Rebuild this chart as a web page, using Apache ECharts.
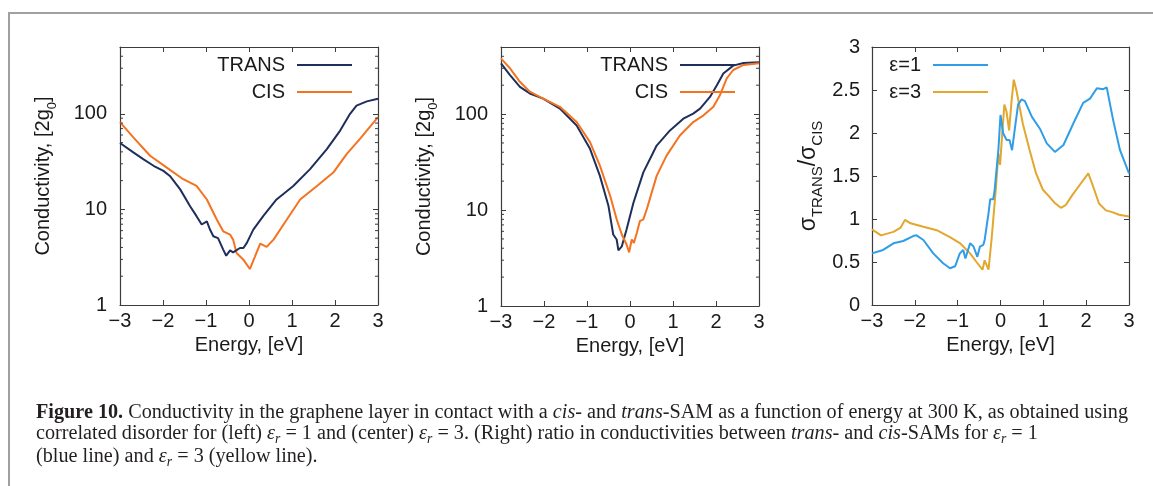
<!DOCTYPE html>
<html>
<head>
<meta charset="utf-8">
<script src="https://cdn.jsdelivr.net/npm/echarts@6/dist/echarts.min.js"></script>
<style>
  html, body { margin: 0; padding: 0; background: #fff; }
  #wrap { position: relative; width: 1153px; height: 486px; overflow: hidden; background: #fff; }
  #chart { position: absolute; left: 0; top: 0; width: 1153px; height: 486px; }
  #frame { position: absolute; left: 8px; top: 12px; width: 1200px; height: 520px;
           border-top: 2px solid #a0a0a0; border-left: 2px solid #a0a0a0; }
  #caption { position: absolute; left: 36px; top: 401px; font-family: 'Liberation Serif', serif;
             font-size: 20px; line-height: 21.2px; color: #231f20; white-space: nowrap;
             transform-origin: 0 0; }
  #caption .row { display: block; }
  #caption .txt { display: inline-block; }
  .sub { font-size: 0.68em; position: relative; top: 0.3em; font-style: italic; }
</style>
</head>
<body>
<div id="wrap">
  <div id="frame"></div>
  <div id="chart"></div>
  <div id="caption">
    <div class="row"><span class="txt" id="firstLine"><b>Figure 10.</b> Conductivity in the graphene layer in contact with a <i>cis</i>- and <i>trans</i>-SAM as a function of energy at 300 K, as obtained using</span></div>
    <div class="row"><span class="txt">correlated disorder for (left) <i>ε</i><span class="sub">r</span> = 1 and (center) <i>ε</i><span class="sub">r</span> = 3. (Right) ratio in conductivities between <i>trans</i>- and <i>cis</i>-SAMs for <i>ε</i><span class="sub">r</span> = 1</span></div>
    <div class="row"><span class="txt">(blue line) and <i>ε</i><span class="sub">r</span> = 3 (yellow line).</span></div>
  </div>
</div>
<script>
// ---- Left panel (εr = 1): conductivity [2g0] vs energy [eV] ----
const leftTransE = [-3, -2.69, -2.46, -2.22, -1.99, -1.84, -1.6, -1.37, -1.22, -1.1, -0.98, -0.91, -0.83, -0.72, -0.6, -0.53, -0.44, -0.37, -0.21, -0.13, -0.05, 0.1, 0.33, 0.64, 1.03, 1.42, 1.81, 2.12, 2.35, 2.5, 2.74, 3];
const leftTransS = [49.5, 39.5, 33.6, 28.6, 25.3, 22.4, 16.2, 10.8, 8.5, 6.95, 7.5, 6.2, 5.24, 5.0, 3.8, 3.28, 3.73, 3.55, 3.95, 3.95, 4.46, 6.15, 8.5, 12.7, 17.6, 26.4, 42.8, 66.8, 100, 122, 135, 144];
const leftCisE = [-3, -2.69, -2.3, -1.92, -1.53, -1.22, -0.98, -0.75, -0.6, -0.44, -0.37, -0.29, -0.13, 0.02, 0.14, 0.26, 0.41, 0.57, 0.88, 1.19, 1.58, 1.96, 2.27, 2.58, 3];
const leftCisS = [81.8, 56.8, 36.4, 27.5, 20.7, 17.6, 12.7, 7.85, 5.9, 5.45, 4.83, 3.5, 2.98, 2.38, 3.23, 4.39, 4.05, 4.83, 7.85, 12.7, 17.6, 24.3, 37.9, 54.6, 92.3];

// ---- Center panel (εr = 3) ----
const centerTransE = [-3, -2.79, -2.56, -2.33, -2.02, -1.63, -1.24, -0.93, -0.7, -0.5, -0.39, -0.31, -0.27, -0.19, -0.08, 0.08, 0.31, 0.62, 0.93, 1.24, 1.47, 1.63, 1.86, 2.02, 2.17, 2.4, 2.64, 3];
const centerTransS = [338, 255, 192, 164, 145, 114, 76, 43.4, 22.7, 11, 5.56, 4.93, 3.8, 4.19, 6.27, 11.9, 24.7, 47, 67.5, 89.5, 101, 114, 151, 200, 265, 320, 340, 346];
const centerCisE = [-3, -2.79, -2.56, -2.33, -2.02, -1.63, -1.24, -0.93, -0.7, -0.46, -0.31, -0.19, -0.08, -0.02, 0.04, 0.09, 0.16, 0.23, 0.31, 0.39, 0.62, 0.85, 1.16, 1.47, 1.71, 1.94, 2.09, 2.25, 2.4, 2.64, 3];
const centerCisS = [381, 299, 217, 171, 145, 119, 82.6, 51, 29, 14, 8, 5.56, 4.37, 3.62, 4.93, 4.55, 5.8, 7.67, 8.0, 10.2, 22.7, 36.9, 59.8, 82.6, 97, 119, 157, 235, 288, 325, 338];

// ---- Right panel: ratio σTRANS / σCIS ----
const ratioEps1E = [-3, -2.74, -2.5, -2.27, -2.04, -1.96, -1.8, -1.57, -1.34, -1.18, -1.06, -0.95, -0.87, -0.82, -0.71, -0.63, -0.54, -0.48, -0.4, -0.37, -0.28, -0.24, -0.17, -0.14, -0.05, 0.0, 0.06, 0.14, 0.21, 0.27, 0.33, 0.41, 0.49, 0.57, 0.73, 0.92, 1.08, 1.27, 1.47, 1.7, 1.93, 2.09, 2.25, 2.4, 2.48, 2.63, 2.79, 3];
const ratioEps1V = [0.60, 0.64, 0.717, 0.744, 0.802, 0.81, 0.756, 0.6, 0.485, 0.427, 0.45, 0.60, 0.64, 0.54, 0.717, 0.68, 0.56, 0.68, 0.70, 0.756, 1.066, 1.23, 1.23, 1.32, 1.80, 2.21, 2.0, 1.92, 1.92, 1.80, 2.03, 2.33, 2.39, 2.37, 2.19, 2.05, 1.88, 1.78, 1.86, 2.11, 2.35, 2.40, 2.52, 2.51, 2.53, 2.15, 1.80, 1.53];
const ratioEps3E = [-3, -2.79, -2.5, -2.33, -2.23, -2.1, -1.8, -1.49, -1.18, -0.95, -0.71, -0.56, -0.42, -0.37, -0.28, -0.21, -0.11, -0.05, -0.01, 0.03, 0.09, 0.14, 0.2, 0.26, 0.31, 0.37, 0.52, 0.68, 0.83, 0.99, 1.14, 1.26, 1.41, 1.52, 1.68, 1.87, 2.05, 2.14, 2.3, 2.46, 2.61, 2.77, 3];
const ratioEps3V = [0.88, 0.81, 0.85, 0.90, 0.99, 0.95, 0.91, 0.87, 0.79, 0.72, 0.60, 0.50, 0.41, 0.52, 0.41, 0.756, 1.34, 1.76, 1.63, 1.92, 2.33, 2.25, 2.03, 2.38, 2.62, 2.5, 2.11, 1.80, 1.53, 1.34, 1.26, 1.19, 1.13, 1.16, 1.28, 1.41, 1.53, 1.41, 1.18, 1.10, 1.08, 1.05, 1.03];

// ---- Axis ranges and tick labels ----
const energyRange = [-3, 3];
const energyStep = 1;
const condRange = [1, 500];
const condTickLabels = [1, 10, 100];
const condMinorTicks = [2, 3, 4, 5, 6, 7, 8, 9, 20, 30, 40, 50, 60, 70, 80, 90, 200, 300, 400];
const ratioRange = [0, 3];
const ratioStep = 0.5;

// ---- Styling ----
const NAVY = '#1f2f5c';
const ORANGE = '#f47321';
const BLUE = '#2f9ee6';
const GOLD = '#e2a72c';
const AXIS = '#3c3c3c';
const TEXT = '#1a1a1a';
const FONT = "'Liberation Sans', Arial, sans-serif";
const FS = 20;

const zip = (xs, ys) => xs.map((x, i) => [x, ys[i]]);
const minus = v => String(v).replace('-', '\u2212');

const grids = [
  { left: 120, top: 47, width: 258, height: 258 },
  { left: 501, top: 47, width: 258, height: 259 },
  { left: 872, top: 47, width: 257, height: 258 }
];

const lineCommon = { show: true, onZero: false, lineStyle: { color: AXIS, width: 1.2 } };
const tickCommon = { show: true, inside: true, length: 5, lineStyle: { color: AXIS, width: 1 } };

function xAxisPair(g) {
  return [
    {
      gridIndex: g, type: 'value', position: 'bottom',
      min: energyRange[0], max: energyRange[1], interval: energyStep,
      axisLine: lineCommon, axisTick: tickCommon, splitLine: { show: false },
      axisLabel: { margin: 6, fontSize: FS, color: TEXT, fontFamily: FONT, formatter: minus },
      name: 'Energy, [eV]', nameLocation: 'middle', nameGap: 27,
      nameTextStyle: { fontSize: FS, color: TEXT, fontFamily: FONT }
    },
    {
      gridIndex: g, type: 'value', position: 'top',
      min: energyRange[0], max: energyRange[1], interval: energyStep,
      axisLine: lineCommon, axisTick: tickCommon, splitLine: { show: false },
      axisLabel: { show: false }
    }
  ];
}

const richName = {
  a: { fontSize: FS, lineHeight: 26, verticalAlign: 'top', color: TEXT, fontFamily: FONT },
  s: { fontSize: 13, lineHeight: 12, verticalAlign: 'bottom', color: TEXT, fontFamily: FONT }
};

function logYAxisPair(g) {
  const shared = {
    gridIndex: g, type: 'log', logBase: 10, min: condRange[0], max: condRange[1],
    axisLine: lineCommon, axisTick: tickCommon, splitLine: { show: false }, minorTick: { show: false }
  };
  return [
    Object.assign({}, shared, {
      position: 'left',
      axisLabel: {
        margin: 13, fontSize: FS, color: TEXT, fontFamily: FONT,
        formatter: v => (condTickLabels.indexOf(Math.round(v)) >= 0 && Math.abs(v - Math.round(v)) < 1e-6) ? String(Math.round(v)) : ''
      },
      name: '{a|Conductivity, [2g}{s|0}{a|]}', nameLocation: 'middle', nameGap: 61,
      nameTextStyle: { rich: richName }
    }),
    Object.assign({}, shared, { position: 'right', axisLabel: { show: false } })
  ];
}

function ratioYAxisPair(g) {
  const shared = {
    gridIndex: g, type: 'value', min: ratioRange[0], max: ratioRange[1], interval: ratioStep,
    axisLine: lineCommon, axisTick: tickCommon, splitLine: { show: false }
  };
  return [
    Object.assign({}, shared, {
      position: 'left',
      axisLabel: { margin: 12, fontSize: FS, color: TEXT, fontFamily: FONT },
      name: '{a|\u03c3}{s|TRANS}{a|/\u03c3}{s|CIS}', nameLocation: 'middle', nameGap: 47,
      nameTextStyle: {
        rich: {
          a: { fontSize: 23, lineHeight: 28, verticalAlign: 'top', color: TEXT, fontFamily: FONT },
          s: { fontSize: 15, lineHeight: 14, verticalAlign: 'bottom', color: TEXT, fontFamily: FONT }
        }
      }
    }),
    Object.assign({}, shared, { position: 'right', axisLabel: { show: false } })
  ];
}

function curve(name, xIdx, yIdx, xs, ys, color, z) {
  return {
    type: 'line', name, xAxisIndex: xIdx, yAxisIndex: yIdx, data: zip(xs, ys),
    showSymbol: false, symbol: 'none', z,
    lineStyle: { color, width: 2 }, itemStyle: { color }
  };
}

// Minor ticks of the logarithmic axes, drawn inward on both frame sides
function minorTickSeries(xIdx, yIdx) {
  return {
    type: 'custom', xAxisIndex: xIdx, yAxisIndex: yIdx, silent: true, z: 5,
    data: condMinorTicks.map(v => [energyRange[0], v]),
    encode: { x: 0, y: 1 },
    renderItem: (params, api) => {
      const v = api.value(1);
      const a = api.coord([energyRange[0], v]);
      const b = api.coord([energyRange[1], v]);
      const st = { stroke: AXIS, lineWidth: 1 };
      return {
        type: 'group',
        children: [
          { type: 'line', shape: { x1: a[0], y1: a[1], x2: a[0] + 3, y2: a[1] }, style: st },
          { type: 'line', shape: { x1: b[0] - 3, y1: b[1], x2: b[0], y2: b[1] }, style: st }
        ]
      };
    }
  };
}

function legendAt(rightEdge, names) {
  return {
    data: names, orient: 'vertical', right: 1153 - rightEdge, top: 55, padding: 0,
    align: 'right', icon: 'rect', itemWidth: 55, itemHeight: 2, itemGap: 7,
    selectedMode: false,
    textStyle: { fontSize: FS, lineHeight: 20, color: TEXT, fontFamily: FONT, padding: [0, 7, 0, 0] }
  };
}

const option = {
  animation: false,
  backgroundColor: 'transparent',
  grid: grids,
  xAxis: [].concat(xAxisPair(0), xAxisPair(1), xAxisPair(2)),
  yAxis: [].concat(logYAxisPair(0), logYAxisPair(1), ratioYAxisPair(2)),
  legend: [
    legendAt(352, ['TRANS', 'CIS']),
    legendAt(735, ['TRANS', 'CIS']),
    legendAt(988, ['\u03b5=1', '\u03b5=3'])
  ],
  series: [
    curve('CIS', 0, 0, leftCisE, leftCisS, ORANGE, 2),
    curve('TRANS', 0, 0, leftTransE, leftTransS, NAVY, 3),
    curve('TRANS', 2, 2, centerTransE, centerTransS, NAVY, 2),
    curve('CIS', 2, 2, centerCisE, centerCisS, ORANGE, 3),
    curve('\u03b5=3', 4, 4, ratioEps3E, ratioEps3V, GOLD, 2),
    curve('\u03b5=1', 4, 4, ratioEps1E, ratioEps1V, BLUE, 3),
    minorTickSeries(0, 0),
    minorTickSeries(2, 2)
  ]
};

const chart = echarts.init(document.getElementById('chart'), null, { renderer: 'canvas' });
chart.setOption(option);

// Condense the caption so its first line spans the figure width
const cap = document.getElementById('caption');
const w = document.getElementById('firstLine').getBoundingClientRect().width;
cap.style.transform = 'scaleX(' + (1092 / w).toFixed(4) + ')';
</script>
</body>
</html>
